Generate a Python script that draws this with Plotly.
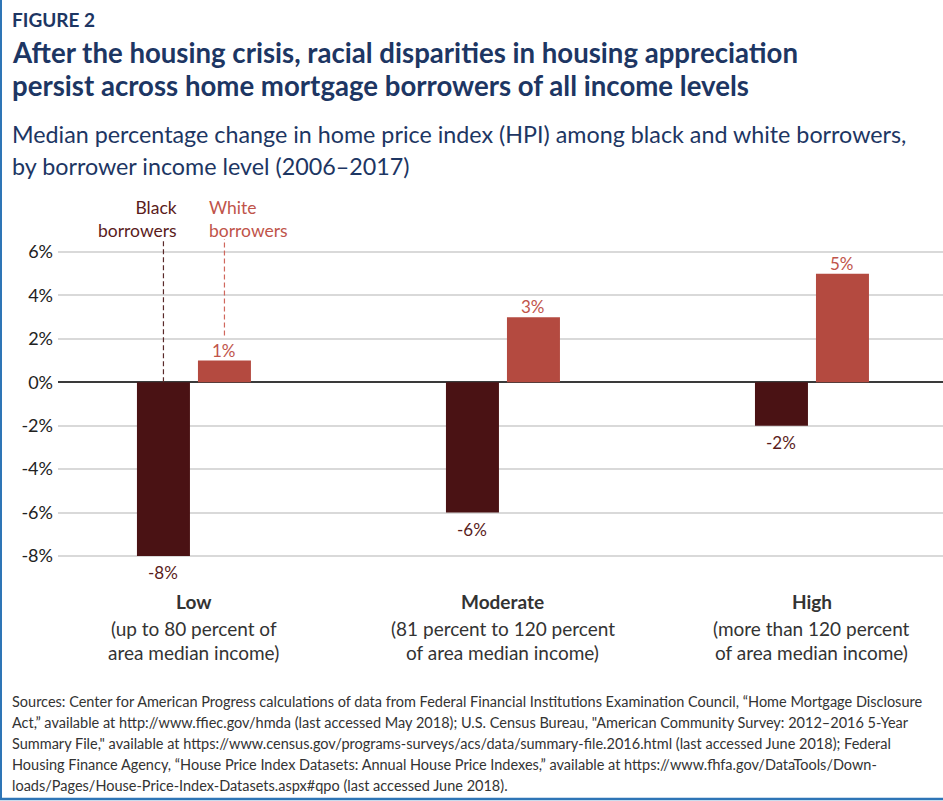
import plotly.graph_objects as go

# ---------------- data ----------------
categories = ["Low", "Moderate", "High"]
cat_line1 = ["(up to 80 percent of", "(81 percent to 120 percent", "(more than 120 percent"]
cat_line2 = ["area median income)", "of area median income)", "of area median income)"]
black_vals = [-8, -6, -2]
white_vals = [1, 3, 5]
y_ticks = [-8, -6, -4, -2, 0, 2, 4, 6]
y_tick_labels = [f"{v}%" for v in y_ticks]
series_labels = ["Black<br>borrowers", "White<br>borrowers"]

fig_label = "FIGURE 2"
title_lines = ["After the housing crisis, racial disparities in housing appreciation",
               "persist across home mortgage borrowers of all income levels"]
subtitle_lines = ["Median percentage change in home price index (HPI) among black and white borrowers,",
                  "by borrower income level (2006\u20132017)"]
source_lines = [
    "Sources: Center for American Progress calculations of data from Federal Financial Institutions Examination Council, \u201cHome Mortgage Disclosure",
    "Act,\u201d available at http://www.ffiec.gov/hmda (last accessed May 2018); U.S. Census Bureau, \"American Community Survey: 2012\u20132016 5-Year",
    "Summary File,\" available at https://www.census.gov/programs-surveys/acs/data/summary-file.2016.html (last accessed June 2018); Federal",
    "Housing Finance Agency, \u201cHouse Price Index Datasets: Annual House Price Indexes,\u201d available at https://www.fhfa.gov/DataTools/Down-",
    "loads/Pages/House-Price-Index-Datasets.aspx#qpo (last accessed June 2018).",
]

# ---------------- layout geometry ----------------
W, H = 943, 801
L, R = 58, 0
Y_MIN, Y_MAX = -8.05, 6.6
T, B = 239.3, 244.2
PW = W - L - R
PH = H - T - B
X_MIN, X_MAX = -0.440, 2.424

BAR_W = 0.1715
OFF_B = -0.1845
OFF_W = 0.0129

NAVY = "#1d3663"
C_BLACK = "#4a1214"
C_WHITE = "#b44a40"
C_BLACK_TXT = "#5a1c1c"
C_WHITE_TXT = "#c0544a"
FONT = "Lato"


def px(x):
    return (x - L) / PW


def py(y):
    return (H - B - y) / PH


x_idx = list(range(len(categories)))

fig = go.Figure()
fig.add_trace(go.Bar(x=x_idx, y=black_vals, width=BAR_W, offset=OFF_B,
                     marker=dict(color=C_BLACK, line=dict(width=0)),
                     name="Black borrowers", hoverinfo="y"))
fig.add_trace(go.Bar(x=x_idx, y=white_vals, width=BAR_W, offset=OFF_W,
                     marker=dict(color=C_WHITE, line=dict(width=0)),
                     name="White borrowers", hoverinfo="y"))

ann = []


def text(t, x, baseline, size, color, bold=False, xanchor="left", xref="paper"):
    ann.append(dict(
        text=f"<b>{t}</b>" if bold else t,
        x=x if xref != "paper" else px(x), xref=xref,
        y=py(baseline - 0.30 * size), yref="paper",
        xanchor=xanchor, yanchor="middle", showarrow=False,
        font=dict(family=FONT, size=size, color=color)))


# header
text(fig_label, 10, 26, 19, NAVY, bold=True)
text(title_lines[0], 10, 61, 27.6, NAVY, bold=True)
text(title_lines[1], 10, 94, 27.6, NAVY, bold=True)
text(subtitle_lines[0], 10, 141, 23.3, NAVY)
text(subtitle_lines[1], 10, 173, 23.3, NAVY)

# series labels (two-line text blocks)
ann.append(dict(text=series_labels[0], x=px(179), y=py(195), xref="paper", yref="paper",
                xanchor="right", yanchor="top", align="right", showarrow=False,
                font=dict(family=FONT, size=17.5, color=C_BLACK_TXT)))
ann.append(dict(text=series_labels[1], x=px(207), y=py(195), xref="paper", yref="paper",
                xanchor="left", yanchor="top", align="left", showarrow=False,
                font=dict(family=FONT, size=17.5, color=C_WHITE_TXT)))

# category labels
for i, c in enumerate(categories):
    text(c, i, 607, 19, "#333333", bold=True, xanchor="center", xref="x")
    text(cat_line1[i], i, 634, 19, "#333333", xanchor="center", xref="x")
    text(cat_line2[i], i, 658, 19, "#333333", xanchor="center", xref="x")

# value labels
for i in x_idx:
    ann.append(dict(text=f"{white_vals[i]}%", x=i + OFF_W + BAR_W / 2, y=white_vals[i],
                    xref="x", yref="y", xanchor="center", yanchor="bottom", yshift=-2,
                    showarrow=False, font=dict(family=FONT, size=17, color=C_WHITE_TXT)))
    ann.append(dict(text=f"{black_vals[i]}%", x=i + OFF_B + BAR_W / 2, y=black_vals[i],
                    xref="x", yref="y", xanchor="center", yanchor="top", yshift=-4,
                    showarrow=False, font=dict(family=FONT, size=17, color=C_BLACK_TXT)))

# sources
for k, line in enumerate(source_lines):
    text(line, 10, 705 + 21 * k, 14.5, "#333333")

shapes = [
    # leader lines to series labels
    dict(type="line", xref="x", yref="y", x0=OFF_B + BAR_W / 2, x1=OFF_B + BAR_W / 2,
         y0=0, y1=Y_MAX, line=dict(color="#5a2a2a", width=1.2, dash="5px,3px")),
    dict(type="line", xref="x", yref="y", x0=OFF_W + BAR_W / 2, x1=OFF_W + BAR_W / 2,
         y0=white_vals[0] + 1.15, y1=Y_MAX, line=dict(color="#d0675d", width=1.2, dash="5px,3px")),
    # frame
    dict(type="line", xref="paper", yref="paper", x0=px(1), x1=px(1), y0=py(0), y1=py(799),
         line=dict(color="#2e75b6", width=2)),
    dict(type="line", xref="paper", yref="paper", x0=px(0), x1=px(W), y0=py(798.5), y1=py(798.5),
         line=dict(color="#2e75b6", width=2.5)),
]

fig.update_layout(
    width=W, height=H,
    margin=dict(l=L, r=R, t=T, b=B, pad=0),
    paper_bgcolor="white", plot_bgcolor="white",
    showlegend=False, barmode="overlay",
    annotations=ann, shapes=shapes,
    font=dict(family=FONT, color="#222222"),
    xaxis=dict(range=[X_MIN, X_MAX], showticklabels=False, showgrid=False,
               zeroline=False, showline=False, ticks="", fixedrange=True),
    yaxis=dict(range=[Y_MIN, Y_MAX], tickvals=y_ticks, ticktext=y_tick_labels,
               showgrid=True, gridcolor="#d9d9d9", gridwidth=1.5,
               zeroline=True, zerolinecolor="#3a3a3a", zerolinewidth=1.5,
               showline=False, ticks="", ticklabelstandoff=4,
               tickfont=dict(family=FONT, size=18, color="#222222"), fixedrange=True),
)

fig.write_html("out.html")
